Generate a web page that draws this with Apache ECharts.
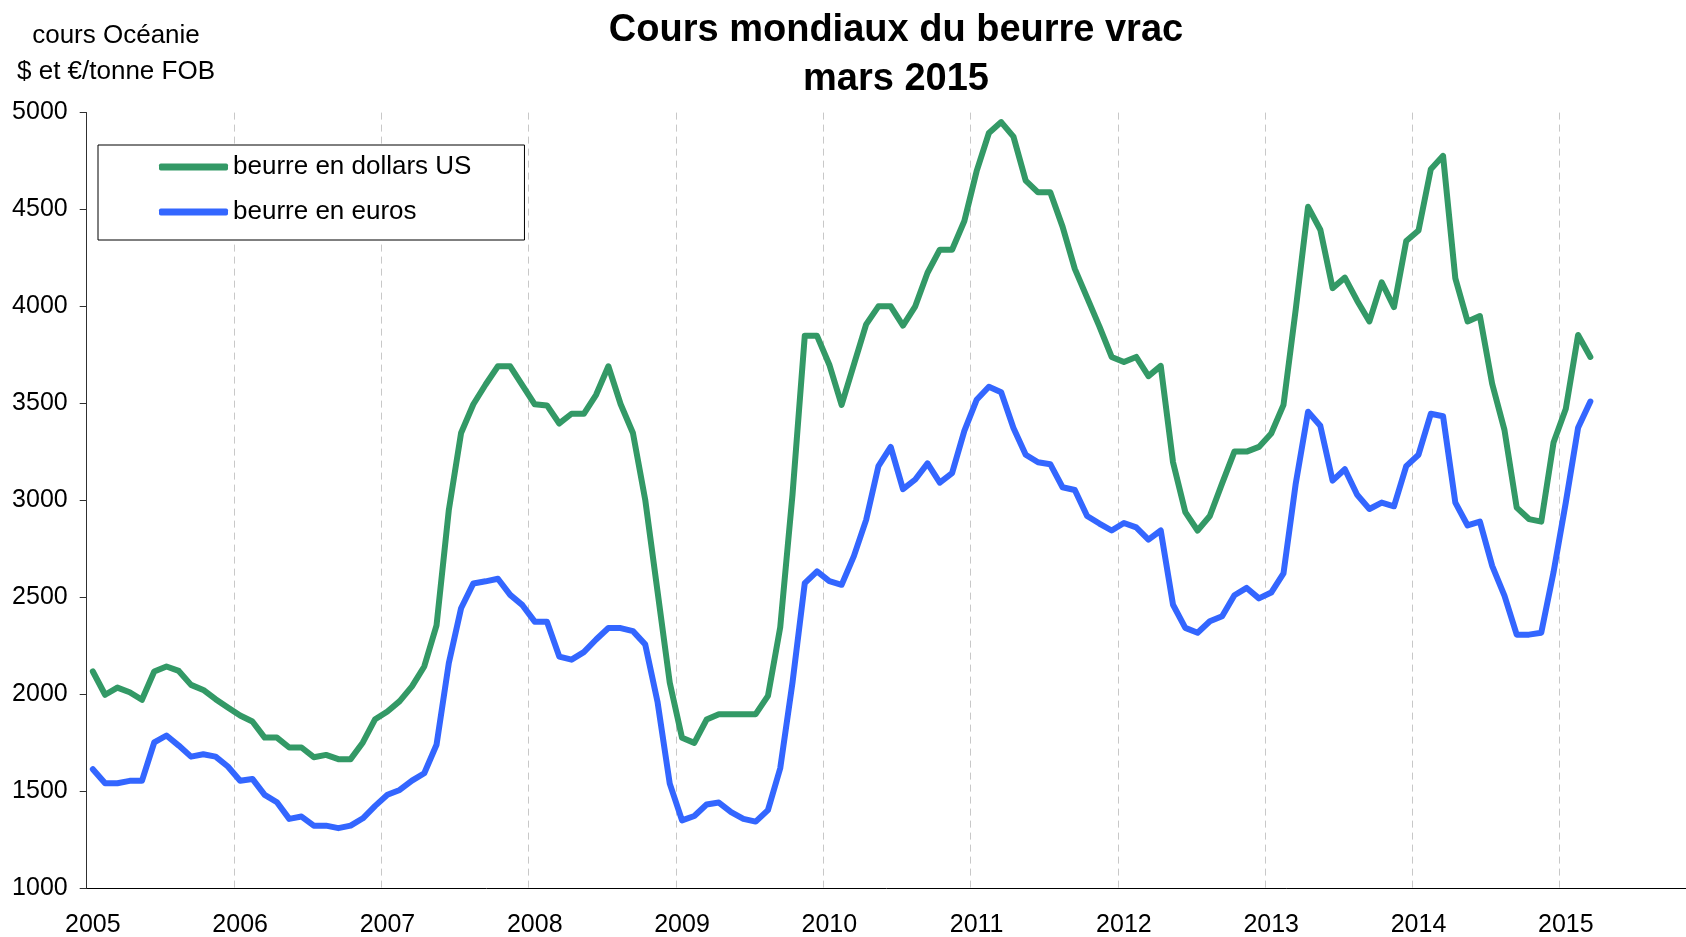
<!DOCTYPE html>
<html>
<head>
<meta charset="utf-8">
<script src="https://cdn.jsdelivr.net/npm/echarts@6/dist/echarts.min.js"></script>
<style>html,body{margin:0;padding:0;background:#fff}#c{width:1686px;height:937px}</style>
</head>
<body>
<div id="c"></div>
<script>
// ---- data ----
const startYear = 2005;
const monthCount = 131; // Jan 2005 .. Nov 2015 on the axis (right end runs off the picture)
const yTicks = [1000, 1500, 2000, 2500, 3000, 3500, 4000, 4500, 5000];
const seriesNames = ['beurre en dollars US', 'beurre en euros'];
const usd = [
  2118, 1998, 2035, 2011, 1972, 2118, 2144, 2121, 2049, 2023, 1975, 1932,
  1891, 1860, 1777, 1777, 1726, 1726, 1676, 1688, 1666, 1666, 1752, 1872,
  1912, 1965, 2041, 2144, 2356, 2950, 3348, 3496, 3598, 3692, 3692, 3594,
  3496, 3490, 3397, 3447, 3447, 3545, 3692, 3496, 3348, 3004, 2533, 2061,
  1776, 1750, 1870, 1898, 1898, 1898, 1898, 1992, 2346, 3030, 3849, 3849,
  3700, 3493, 3700, 3908, 4001, 4001, 3902, 4001, 4174, 4293, 4293, 4441,
  4698, 4895, 4951, 4876, 4649, 4589, 4589, 4412, 4194, 4046, 3898, 3740,
  3714, 3740, 3641, 3694, 3197, 2940, 2845, 2920, 3088, 3252, 3252, 3276,
  3345, 3493, 3987, 4514, 4396, 4095, 4149, 4030, 3923, 4125, 3997, 4338,
  4392, 4708, 4777, 4145, 3923, 3951, 3602, 3364, 2963, 2904, 2891, 3299,
  3473, 3853, 3740
];
const eur = [
  1614, 1542, 1542, 1554, 1554, 1752, 1788, 1736, 1679, 1691, 1679, 1628,
  1555, 1564, 1482, 1444, 1358, 1370, 1323, 1323, 1310, 1323, 1361, 1425,
  1482, 1507, 1555, 1593, 1740, 2161, 2444, 2572, 2583, 2596, 2513, 2460,
  2375, 2375, 2195, 2179, 2218, 2283, 2342, 2342, 2326, 2258, 1963, 1540,
  1350, 1373, 1432, 1442, 1393, 1358, 1344, 1403, 1619, 2061, 2574, 2634,
  2584, 2565, 2713, 2900, 3177, 3276, 3058, 3108, 3191, 3092, 3141, 3359,
  3519, 3586, 3558, 3374, 3236, 3197, 3187, 3068, 3054, 2920, 2881, 2845,
  2884, 2861, 2798, 2845, 2462, 2343, 2318, 2377, 2403, 2511, 2549, 2495,
  2525, 2624, 3088, 3457, 3385, 3102, 3161, 3029, 2956, 2989, 2970, 3177,
  3236, 3447, 3434, 2989, 2871, 2891, 2663, 2509, 2308, 2308, 2318, 2630,
  2990, 3375, 3510
];
const categories = [];
for (let i = 0; i < monthCount; i++) {
  const y = startYear + Math.floor(i / 12);
  const m = (i % 12) + 1;
  categories.push(y + '-' + (m < 10 ? '0' + m : m));
}

// ---- chart ----
const FONT = '"Liberation Sans", Arial, sans-serif';
const chart = echarts.init(document.getElementById('c'), null, {renderer: 'canvas'});
chart.setOption({
  backgroundColor: '#ffffff',
  animation: false,
  title: [
    {
      text: 'Cours mondiaux du beurre vrac\nmars 2015',
      left: 896, top: 6, textAlign: 'center', padding: 0,
      textStyle: {fontFamily: FONT, fontSize: 38, fontWeight: 'bold', lineHeight: 49, color: '#000'}
    },
    {
      text: 'cours Océanie\n$ et €/tonne FOB',
      left: 116, top: 18, textAlign: 'center', padding: 0,
      textStyle: {fontFamily: FONT, fontSize: 26, fontWeight: 'normal', lineHeight: 36, color: '#000'}
    }
  ],
  legend: {
    data: seriesNames,
    left: 98, top: 145,
    orient: 'vertical',
    borderColor: '#000', borderWidth: 1, borderRadius: 0,
    backgroundColor: '#fff',
    padding: [7, 53, 13, 61],
    itemGap: 15,
    itemWidth: 69, itemHeight: 7,
    icon: 'roundRect',
    textStyle: {fontFamily: FONT, fontSize: 26, lineHeight: 30, color: '#000'}
  },
  grid: {left: 86.7, right: -8.7, top: 112.6, bottom: 48.7, containLabel: false, outerBoundsMode: 'none'},
  xAxis: {
    type: 'category',
    data: categories,
    boundaryGap: true,
    axisLine: {show: true, lineStyle: {color: '#000', width: 1}},
    axisTick: {show: false},
    axisLabel: {
      interval: function (idx) { return idx % 12 === 0; },
      formatter: function (v) { return v.slice(0, 4); },
      fontFamily: FONT, fontSize: 25, color: '#000', margin: 22, lineHeight: 30
    },
    splitLine: {
      show: true,
      interval: function (idx) { return idx % 12 === 0; },
      lineStyle: {color: '#c8c8c8', width: 1, type: [7, 5]}
    }
  },
  yAxis: {
    type: 'value',
    min: yTicks[0], max: yTicks[yTicks.length - 1], interval: yTicks[1] - yTicks[0],
    axisLine: {show: true, lineStyle: {color: '#303030', width: 1}},
    axisTick: {show: true, inside: false, length: 7, lineStyle: {color: '#303030'}},
    axisLabel: {
      fontFamily: FONT, fontSize: 25, color: '#000', margin: 19,
      formatter: function (v) { return String(v); }
    },
    splitLine: {show: false}
  },
  series: [
    {
      name: seriesNames[0], type: 'line', data: usd, symbol: 'none', smooth: false,
      itemStyle: {color: '#339966'},
      lineStyle: {color: '#339966', width: 6, cap: 'round', join: 'round'}
    },
    {
      name: seriesNames[1], type: 'line', data: eur, symbol: 'none', smooth: false,
      itemStyle: {color: '#3366FF'},
      lineStyle: {color: '#3366FF', width: 6, cap: 'round', join: 'round'}
    }
  ]
});
</script>
</body>
</html>
